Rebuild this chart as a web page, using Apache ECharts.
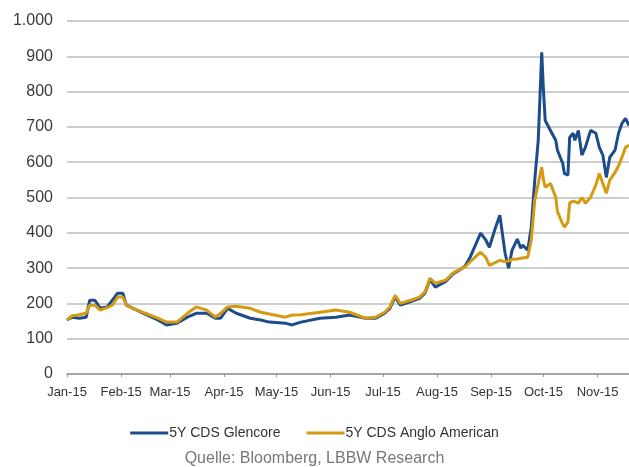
<!DOCTYPE html>
<html>
<head>
<meta charset="utf-8">
<script src="https://cdn.jsdelivr.net/npm/echarts@6/dist/echarts.min.js"></script>
<style>
  html, body { margin: 0; padding: 0; background: #fff; }
  #main { width: 629px; height: 467px; }
</style>
</head>
<body>
<div id="main"></div>
<script>
const dates = [
  '2015-01-01', '2015-01-04', '2015-01-08', '2015-01-12', '2015-01-14', '2015-01-17', '2015-01-20', '2015-01-24', '2015-01-27', '2015-01-30',
  '2015-02-02', '2015-02-04', '2015-02-10', '2015-02-16', '2015-02-22', '2015-02-27',
  '2015-03-05', '2015-03-11', '2015-03-16', '2015-03-22', '2015-03-27', '2015-03-30',
  '2015-04-03', '2015-04-08', '2015-04-16', '2015-04-22', '2015-04-27',
  '2015-05-06', '2015-05-10', '2015-05-15', '2015-05-26',
  '2015-06-04', '2015-06-12', '2015-06-21', '2015-06-27',
  '2015-07-02', '2015-07-05', '2015-07-08', '2015-07-11', '2015-07-17', '2015-07-22', '2015-07-25', '2015-07-28', '2015-07-31',
  '2015-08-06', '2015-08-10', '2015-08-13', '2015-08-17', '2015-08-20', '2015-08-26', '2015-08-29', '2015-08-31',
  '2015-09-03', '2015-09-06', '2015-09-09', '2015-09-11', '2015-09-13', '2015-09-16', '2015-09-18', '2015-09-19', '2015-09-22', '2015-09-24', '2015-09-26', '2015-09-28', '2015-09-30',
  '2015-10-01', '2015-10-02', '2015-10-05', '2015-10-08', '2015-10-09', '2015-10-12', '2015-10-13', '2015-10-15', '2015-10-16', '2015-10-18', '2015-10-19', '2015-10-21', '2015-10-23', '2015-10-25', '2015-10-28', '2015-10-31',
  '2015-11-02', '2015-11-04', '2015-11-06', '2015-11-08', '2015-11-11', '2015-11-13', '2015-11-15', '2015-11-17', '2015-11-19'
];

const glencore = [
  153, 161, 158, 161, 209, 209, 186, 190, 209, 229,
  229, 195, 181, 167, 153, 139,
  144, 161, 172, 172, 158, 158,
  186, 172, 158, 153, 147,
  144, 139, 147, 158,
  161, 167, 158, 158,
  172, 186, 218, 195, 205, 214, 228, 268, 246,
  262, 283, 292, 305, 331, 399, 379, 359,
  407, 450, 342, 300, 351, 382, 356, 365, 351, 416, 549, 662, 911,
  803, 718, 690, 662, 634, 597, 568, 563, 670, 682, 662, 690, 620, 642, 690, 682,
  642, 620, 557, 614, 634, 682, 710, 724, 704
];

const angloAmerican = [
  153, 165, 168, 172, 195, 195, 181, 188, 195, 218,
  218, 195, 181, 170, 158, 147,
  147, 172, 190, 181, 161, 172,
  190, 192, 186, 175, 170,
  161, 167, 168, 175,
  181, 175, 158, 161,
  175, 190, 223, 200, 209, 218, 232, 271, 257,
  266, 285, 294, 303, 318, 345, 330, 308,
  315, 322, 318, 320, 325, 326, 328, 325, 331, 379, 492, 540, 586,
  549, 529, 540, 501, 460, 425, 416, 430, 484, 490, 492, 484, 500, 484, 501, 535,
  568, 540, 512, 549, 571, 590, 614, 642, 648
];

const monthLabels = ['Jan-15', 'Feb-15', 'Mar-15', 'Apr-15', 'May-15', 'Jun-15',
  'Jul-15', 'Aug-15', 'Sep-15', 'Oct-15', 'Nov-15', 'Dec-15'];

const seriesNames = ['5Y CDS Glencore', '5Y CDS Anglo American'];
const sourceText = 'Quelle: Bloomberg, LBBW Research';

const chart = echarts.init(document.getElementById('main'), null, { renderer: 'canvas' });

const toPairs = (vals) => dates.map((d, i) => [d, vals[i]]);

const option = {
  backgroundColor: '#fff',
  animation: false,
  textStyle: { fontFamily: 'Liberation Sans, Arial, sans-serif' },
  grid: { left: 67, right: 0, top: 21, bottom: 93, containLabel: false },
  title: {
    text: sourceText,
    left: 'center',
    top: 446,
    textStyle: { fontSize: 16, fontWeight: 'normal', color: '#777' }
  },
  legend: {
    top: 421,
    left: 'center',
    itemWidth: 38,
    itemHeight: 3,
    itemGap: 26,
    icon: 'rect',
    textStyle: { fontSize: 14, color: '#333', padding: [0, 0, 0, -4] },
    data: seriesNames
  },
  xAxis: {
    type: 'time',
    min: '2015-01-01',
    max: '2015-11-19',
    splitNumber: 11,
    minInterval: 28 * 86400000,
    maxInterval: 31 * 86400000,
    axisLine: { lineStyle: { color: '#999', width: 1.5 } },
    axisTick: { show: true, length: 3, lineStyle: { color: '#999' } },
    splitLine: { show: false },
    axisLabel: {
      color: '#333',
      fontSize: 13,
      margin: 12,
      showMaxLabel: false,
      showMinLabel: true,
      hideOverlap: false,
      formatter: (val) => monthLabels[new Date(val).getMonth()]
    }
  },
  yAxis: {
    type: 'value',
    min: 0,
    max: 1000,
    interval: 100,
    axisLine: { show: false },
    axisTick: { show: false },
    axisLabel: {
      color: '#3a3a3a',
      fontSize: 16,
      margin: 14,
      formatter: (v) => v >= 1000 ? '1.000' : String(v)
    },
    splitLine: { lineStyle: { color: '#bdbdbd', width: 1.5 } }
  },
  series: [
    {
      name: seriesNames[0],
      type: 'line',
      data: toPairs(glencore),
      showSymbol: false,
      color: '#1d4c8c',
      lineStyle: { width: 3, color: '#1d4c8c' },
      z: 2
    },
    {
      name: seriesNames[1],
      type: 'line',
      data: toPairs(angloAmerican),
      showSymbol: false,
      color: '#d39a12',
      lineStyle: { width: 3, color: '#d39a12' },
      z: 3
    }
  ]
};

chart.setOption(option);
</script>
</body>
</html>
